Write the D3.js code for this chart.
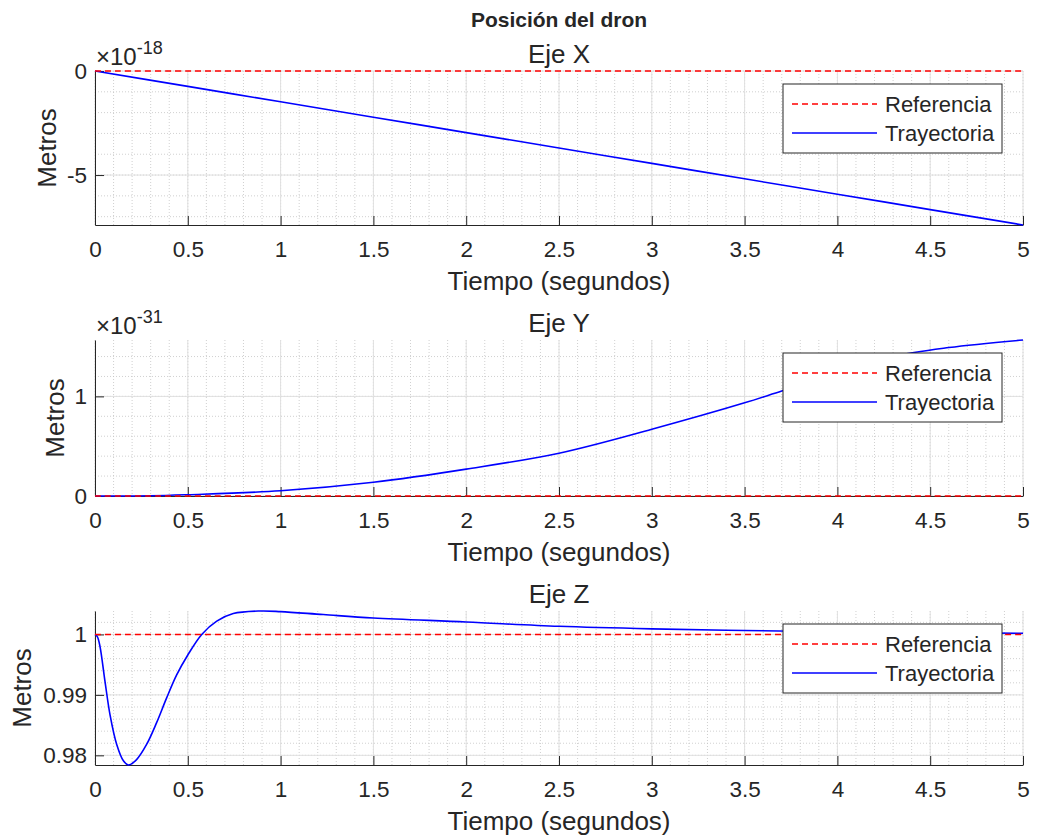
<!DOCTYPE html>
<html>
<head>
<meta charset="utf-8">
<script src="https://cdn.jsdelivr.net/npm/d3@7"></script>
<style>
  body { margin: 0; background: #fff; }
  text { font-family: "Liberation Sans", Arial, sans-serif; fill: #262626; }
</style>
</head>
<body>
<script>
// tiempo (segundos) y posiciones
const tX = [0, 0.5, 1, 1.5, 2, 2.5, 3, 3.5, 4, 4.5, 5];
const posX = [0, -0.74, -1.48, -2.22, -2.96, -3.7, -4.44, -5.18, -5.92, -6.66, -7.4]; // x 1e-18
const refX = [0, 0, 0, 0, 0, 0, 0, 0, 0, 0, 0];

const tY = [0, 0.3, 0.5, 1, 1.5, 2, 2.5, 3, 3.5, 3.7, 4, 4.3, 4.6, 5];
const posY = [0, 0.002, 0.013, 0.053, 0.138, 0.27, 0.43, 0.67, 0.935, 1.054, 1.23, 1.4, 1.49, 1.566]; // x 1e-31
const refY = [0, 0, 0, 0, 0, 0, 0, 0, 0, 0, 0, 0, 0, 0];

const tZ = [0, 0.013, 0.027, 0.054, 0.081, 0.117, 0.153, 0.18, 0.224, 0.278, 0.332, 0.386, 0.44, 0.5,
            0.575, 0.656, 0.745, 0.889, 1, 1.23, 1.5, 2, 2.5, 3, 3.5, 4, 4.5, 5];
const posZ = [1, 0.9996, 0.998, 0.9922, 0.9867, 0.9818, 0.9791, 0.9784, 0.9793, 0.9818, 0.9854, 0.9895,
              0.9933, 0.9966, 1.0, 1.0022, 1.00346, 1.00388, 1.00378, 1.00329, 1.00273, 1.00207,
              1.00135, 1.00093, 1.00066, 1.00045, 1.0003, 1.0002];
const refZ = tZ.map(() => 1);

const xTicks = [0, 0.5, 1, 1.5, 2, 2.5, 3, 3.5, 4, 4.5, 5];
const legendLabels = ["Referencia", "Trayectoria"];

const W = 1037, H = 838;
const left = 95, right = 1023;

const svg = d3.select("body").append("svg")
    .attr("width", W)
    .attr("height", H);

svg.append("text")
    .attr("x", (left + right) / 2)
    .attr("y", 27)
    .attr("text-anchor", "middle")
    .style("font-size", "21px")
    .style("font-weight", "bold")
    .text("Posición del dron");

const panels = [
  {title: "Eje X", top: 71, bottom: 225, t: tX, traj: posX, ref: refX, yTicks: [-5, 0], minor: 1, exp: "-18", ylabX: 56},
  {title: "Eje Y", top: 340, bottom: 496, t: tY, traj: posY, ref: refY, yTicks: [0, 1], minor: 0.2, exp: "-31", ylabX: 64},
  {title: "Eje Z", top: 611, bottom: 765, t: tZ, traj: posZ, ref: refZ, yTicks: [0.98, 0.99, 1], minor: 0.002, exp: null, ylabX: 31}
];

panels.forEach(function(p) {
  const x = d3.scaleLinear().domain([0, 5]).range([left, right]);
  const y = d3.scaleLinear().domain(d3.extent(p.traj.concat(p.ref))).range([p.bottom, p.top]);
  const g = svg.append("g");
  const dom = y.domain();

  // rejilla menor
  const xMinor = d3.range(0, 5.0001, 0.1);
  const yMinor = d3.range(Math.ceil(dom[0] / p.minor - 1e-6) * p.minor, dom[1] + 1e-9, p.minor);
  g.selectAll(".xmin").data(xMinor).enter().append("line")
      .attr("x1", d => x(d)).attr("x2", d => x(d))
      .attr("y1", p.top).attr("y2", p.bottom)
      .attr("stroke", "#c4c4c4").attr("stroke-width", 0.8)
      .attr("stroke-dasharray", "1,2");
  g.selectAll(".ymin").data(yMinor).enter().append("line")
      .attr("x1", left).attr("x2", right)
      .attr("y1", d => y(d)).attr("y2", d => y(d))
      .attr("stroke", "#c4c4c4").attr("stroke-width", 0.8)
      .attr("stroke-dasharray", "1,2");

  // rejilla mayor
  g.selectAll(".xmaj").data(xTicks).enter().append("line")
      .attr("x1", d => x(d)).attr("x2", d => x(d))
      .attr("y1", p.top).attr("y2", p.bottom)
      .attr("stroke", "#e0e0e0").attr("stroke-width", 1);
  g.selectAll(".ymaj").data(p.yTicks).enter().append("line")
      .attr("x1", left).attr("x2", right)
      .attr("y1", d => y(d)).attr("y2", d => y(d))
      .attr("stroke", "#e0e0e0").attr("stroke-width", 1);

  // ejes
  const xAxis = g.append("g")
      .attr("transform", "translate(0," + p.bottom + ")")
      .call(d3.axisBottom(x).tickValues(xTicks).tickSizeInner(-9).tickSizeOuter(0).tickPadding(0)
        .tickFormat(d3.format("~g")));
  xAxis.selectAll("text").attr("y", 31.5).attr("dy", 0).style("font-size", "22.5px");

  const yAxis = g.append("g")
      .attr("transform", "translate(" + left + ",0)")
      .call(d3.axisLeft(y).tickValues(p.yTicks).tickSizeInner(-9).tickSizeOuter(0).tickPadding(8)
        .tickFormat(d => d3.format("~g")(d).replace("−", "-")));
  yAxis.selectAll("text").style("font-size", "22.5px");

  [xAxis, yAxis].forEach(function(a) {
    a.select(".domain").attr("stroke", "#262626").attr("stroke-width", 1);
    a.selectAll(".tick line").attr("stroke", "#262626");
  });

  // series
  const line = d3.line()
      .x((d, i) => x(p.t[i]))
      .y(d => y(d))
      .curve(d3.curveCatmullRom.alpha(0.5));

  g.append("path")
      .attr("d", line(p.traj))
      .attr("fill", "none")
      .attr("stroke", "#0000ff")
      .attr("stroke-width", 1.6);
  g.append("path")
      .attr("d", line(p.ref))
      .attr("fill", "none")
      .attr("stroke", "#ff0000")
      .attr("stroke-width", 1.4)
      .attr("stroke-dasharray", "6,4");

  // titulo y etiquetas
  g.append("text")
      .attr("x", (left + right) / 2)
      .attr("y", p.top - 8)
      .attr("text-anchor", "middle")
      .style("font-size", "26px")
      .text(p.title);

  g.append("text")
      .attr("x", (left + right) / 2)
      .attr("y", p.bottom + 65)
      .attr("text-anchor", "middle")
      .style("font-size", "26px")
      .text("Tiempo (segundos)");

  g.append("text")
      .attr("transform", "translate(" + p.ylabX + "," + (p.top + p.bottom) / 2 + ") rotate(-90)")
      .attr("text-anchor", "middle")
      .style("font-size", "26px")
      .text("Metros");

  if (p.exp) {
    const e = g.append("text")
        .attr("x", left + 1)
        .attr("y", p.top - 6)
        .style("font-size", "24px");
    e.append("tspan").text("×10");
    e.append("tspan").attr("dy", -11).style("font-size", "18px").text(p.exp);
  }

  // leyenda
  const lx = 783, ly = p.top + 13;
  const leg = g.append("g");
  leg.append("rect")
      .attr("x", lx).attr("y", ly)
      .attr("width", 219).attr("height", 69)
      .attr("fill", "#fff")
      .attr("stroke", "#262626").attr("stroke-width", 1);
  const styles = [{c: "#ff0000", dash: "6,4"}, {c: "#0000ff", dash: null}];
  legendLabels.forEach(function(lab, i) {
    const yy = ly + 20 + i * 29;
    leg.append("line")
        .attr("x1", lx + 9).attr("x2", lx + 94)
        .attr("y1", yy).attr("y2", yy)
        .attr("stroke", styles[i].c)
        .attr("stroke-width", 1.4)
        .attr("stroke-dasharray", styles[i].dash);
    leg.append("text")
        .attr("x", lx + 102).attr("y", yy)
        .attr("dy", "0.35em")
        .style("font-size", "22px")
        .text(lab);
  });
});
</script>
</body>
</html>
